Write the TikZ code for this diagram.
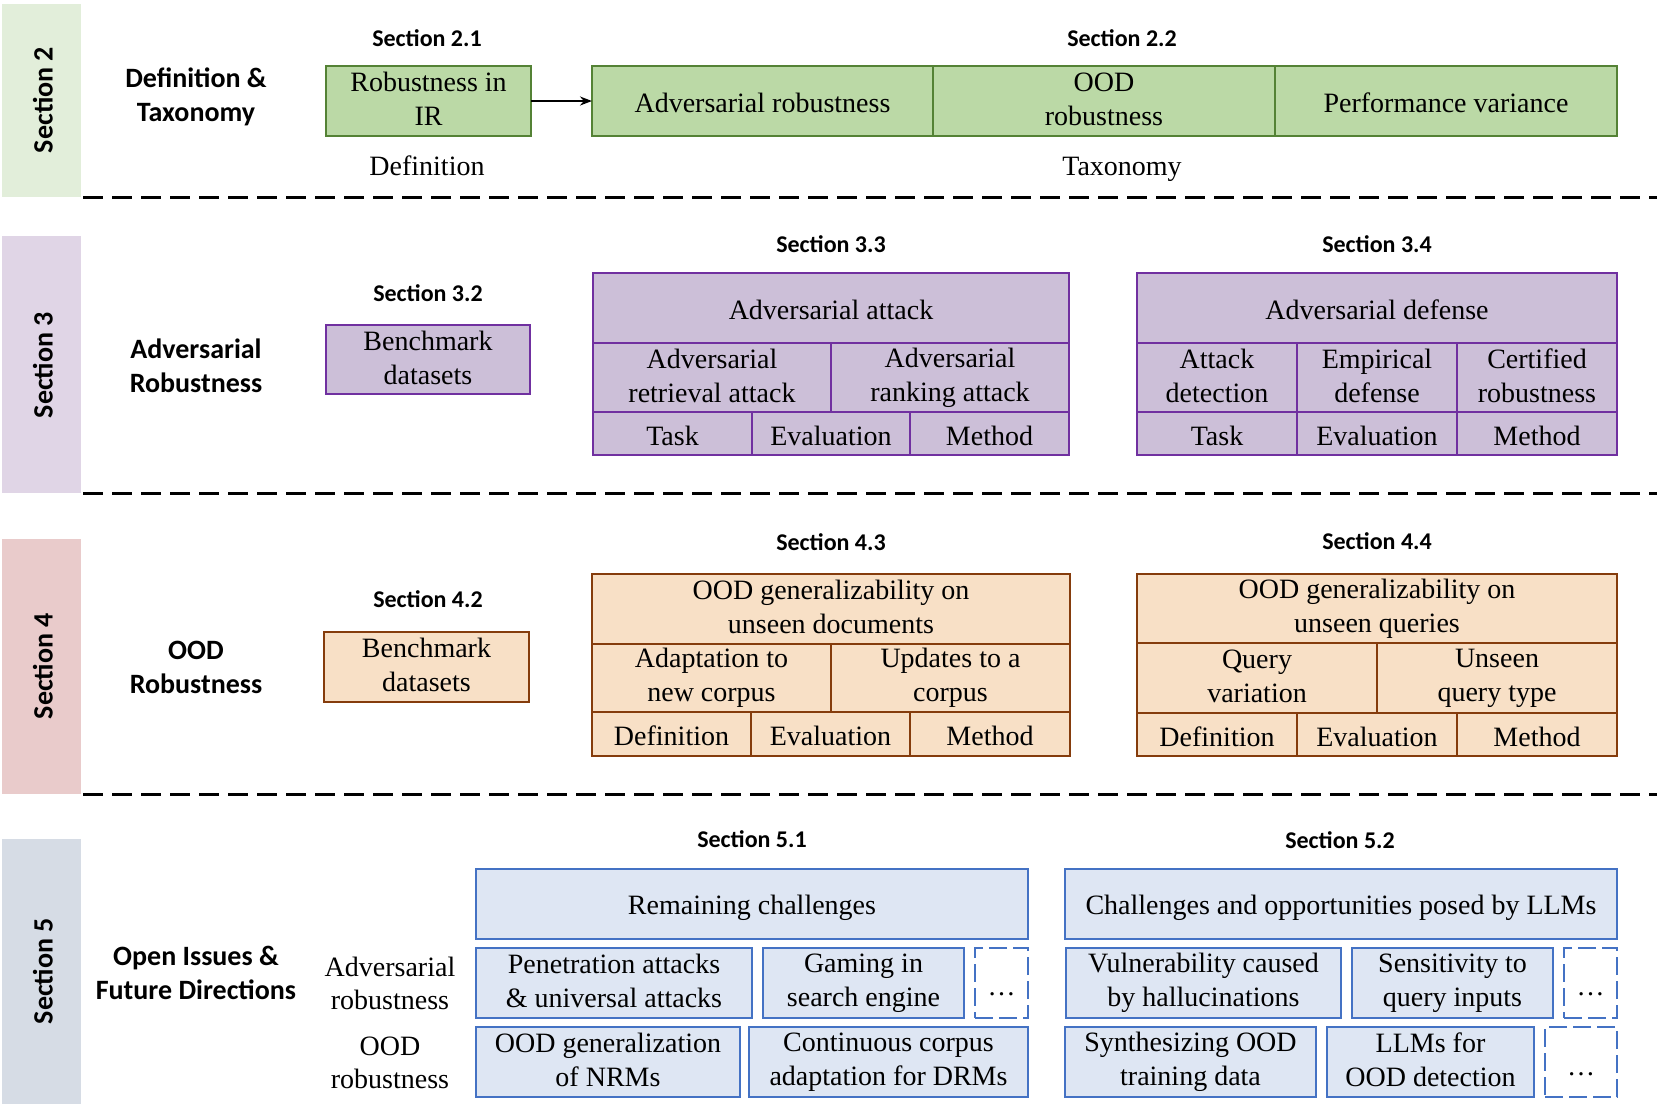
\documentclass[tikz,border=0pt]{standalone}
\usepackage{fontspec}
\setmainfont{Liberation Serif}
\newfontfamily\calfont{Carlito}
\usetikzlibrary{arrows.meta}
\definecolor{gfill}{RGB}{187,217,166}
\definecolor{gdraw}{RGB}{84,130,53}
\definecolor{pfill}{RGB}{204,191,216}
\definecolor{pdraw}{RGB}{112,48,160}
\definecolor{ofill}{RGB}{248,224,198}
\definecolor{odraw}{RGB}{133,60,12}
\definecolor{bfill}{RGB}{222,230,243}
\definecolor{bdraw}{RGB}{68,114,196}
\definecolor{sbgA}{RGB}{226,238,218}
\definecolor{sbgB}{RGB}{224,213,230}
\definecolor{sbgC}{RGB}{233,203,203}
\definecolor{sbgD}{RGB}{214,220,229}
\newcommand\cell[7]{\node[#1, minimum width={(#5-(#3))*0.5pt}, minimum height={(#6-(#4))*0.5pt}] (#2) at ({(#3+#5)/2},{(#4+#6)/2}) {#7};}
\newcommand\mydots[1]{\raisebox{-#1}[0pt][0pt]{\dots}}
\newcommand\cellstrut{\rule[-2pt]{0pt}{15.5pt}}
\begin{document}
\begin{tikzpicture}[x=0.5pt,y=-0.5pt,
  basebox/.style={inner sep=0pt, outer sep=0pt, line width=1.4pt, align=center, font=\fontsize{14}{17}\selectfont},
  cellbox/.style={basebox, execute at begin node=\cellstrut, execute at end node=\cellstrut},
  gbox/.style={cellbox, fill=gfill, draw=gdraw},
  pbox/.style={cellbox, fill=pfill, draw=pdraw},
  obox/.style={cellbox, fill=ofill, draw=odraw},
  bluebox/.style={cellbox, fill=bfill, draw=bdraw},
  dashbox/.style={basebox, draw=bdraw, dash pattern=on 9pt off 3pt},
  secttitle/.style={font=\calfont\bfseries\fontsize{12}{14}\selectfont},
  headtext/.style={font=\calfont\bfseries\fontsize{14}{17}\selectfont, align=center},
  plaintext/.style={font=\fontsize{14}{16.5}\selectfont, align=center},
  sepline/.style={line width=1.5pt, dash pattern=on 10pt off 4.5pt}]
\useasboundingbox (0,0) rectangle (1660,1116);

% section bars
\fill[sbgA] (2,4) rectangle (81,197);
\fill[sbgB] (2,236) rectangle (81,493);
\fill[sbgC] (2,539) rectangle (81,794);
\fill[sbgD] (2,839) rectangle (81,1104);
\node[headtext, rotate=90] (lab2) at (43,100) {Section 2};
\node[headtext, rotate=90] (lab3) at (43,365) {Section 3};
\node[headtext, rotate=90] (lab4) at (43,666) {Section 4};
\node[headtext, rotate=90] (lab5) at (43,971) {Section 5};

% separators
\draw[sepline] (83,197) -- (1657,197);
\draw[sepline] (83,493) -- (1657,493);
\draw[sepline] (83,794) -- (1657,794);

% ---------- Section 2 ----------
\node[headtext] (h2) at (196,97) {Definition \&\\Taxonomy};
\node[secttitle] (t21) at (427,38) {Section 2.1};
\node[secttitle] (t22) at (1122,38) {Section 2.2};
\cell{gbox}{rir}{326}{66}{531}{136}{Robustness in\\IR}
\cell{gbox}{advr}{592}{66}{933}{136}{Adversarial robustness}
\cell{gbox}{oodr}{933}{66}{1275}{136}{OOD\\robustness}
\cell{gbox}{perf}{1275}{66}{1617}{136}{Performance variance}
\draw[-{Stealth[length=6pt,width=4.5pt]}, line width=1pt] (rir.east) -- (advr.west);
\node[plaintext, anchor=base] (defn) at (427,175) {Definition};
\node[plaintext, anchor=base] (taxo) at (1122,175) {Taxonomy};

% ---------- Section 3 ----------
\node[headtext] (h3) at (196,366) {Adversarial\\Robustness};
\node[secttitle] (t32) at (428,293) {Section 3.2};
\cell{pbox}{bench3}{326}{325}{530}{394}{Benchmark\\datasets}
\node[secttitle] (t33) at (831,244) {Section 3.3};
\cell{pbox}{atk}{593}{273}{1069}{343}{Adversarial attack}
\cell{pbox}{atkr}{593}{343}{831}{412}{Adversarial\\retrieval attack}
\cell{pbox}{atkk}{831}{343}{1069}{412}{Adversarial\\ranking attack}
\cell{pbox}{atkt}{593}{412}{752}{455}{Task}
\cell{pbox}{atke}{752}{412}{910}{455}{Evaluation}
\cell{pbox}{atkm}{910}{412}{1069}{455}{Method}
\node[secttitle] (t34) at (1377,244) {Section 3.4};
\cell{pbox}{dfn}{1137}{273}{1617}{343}{Adversarial defense}
\cell{pbox}{dfna}{1137}{343}{1297}{412}{Attack\\detection}
\cell{pbox}{dfne}{1297}{343}{1457}{412}{Empirical\\defense}
\cell{pbox}{dfnc}{1457}{343}{1617}{412}{Certified\\robustness}
\cell{pbox}{dfnt}{1137}{412}{1297}{455}{Task}
\cell{pbox}{dfnv}{1297}{412}{1457}{455}{Evaluation}
\cell{pbox}{dfnm}{1457}{412}{1617}{455}{Method}

% ---------- Section 4 ----------
\node[headtext] (h4) at (196,667) {OOD\\Robustness};
\node[secttitle] (t42) at (428,599) {Section 4.2};
\cell{obox}{bench4}{324}{632}{529}{702}{Benchmark\\datasets}
\node[secttitle] (t43) at (831,542) {Section 4.3};
\cell{obox}{doc}{592}{574}{1070}{644}{OOD generalizability on\\unseen documents}
\cell{obox}{doca}{592}{644}{831}{712}{Adaptation to\\new corpus}
\cell{obox}{docu}{831}{644}{1070}{712}{Updates to a\\corpus}
\cell{obox}{docd}{592}{712}{751}{756}{Definition}
\cell{obox}{doce}{751}{712}{910}{756}{Evaluation}
\cell{obox}{docm}{910}{712}{1070}{756}{Method}
\node[secttitle] (t44) at (1377,541) {Section 4.4};
\cell{obox}{qry}{1137}{574}{1617}{643}{OOD generalizability on\\unseen queries}
\cell{obox}{qryv}{1137}{643}{1377}{713}{Query\\variation}
\cell{obox}{qryu}{1377}{643}{1617}{713}{Unseen\\query type}
\cell{obox}{qryd}{1137}{713}{1297}{756}{Definition}
\cell{obox}{qrye}{1297}{713}{1457}{756}{Evaluation}
\cell{obox}{qrym}{1457}{713}{1617}{756}{Method}

% ---------- Section 5 ----------
\node[headtext] (h5) at (196,973) {Open Issues \&\\Future Directions};
\node[plaintext] (la) at (390,983) {Adversarial\\robustness};
\node[plaintext] (lo) at (390,1063) {OOD\\robustness};
\node[secttitle] (t51) at (752,839) {Section 5.1};
\cell{bluebox}{rem}{476}{869}{1028}{939}{Remaining challenges}
\cell{bluebox}{pen}{476}{948}{752}{1018}{Penetration attacks\\\& universal attacks}
\cell{bluebox}{gam}{763}{948}{964}{1018}{Gaming in\\search engine}
\cell{dashbox}{da1}{975}{948}{1028}{1018}{\mydots{6pt}}
\cell{bluebox}{oodg}{476}{1027}{740}{1097}{OOD generalization\\of NRMs}
\cell{bluebox}{cont}{749}{1027}{1028}{1097}{Continuous corpus\\adaptation for DRMs}
\node[secttitle] (t52) at (1340,840) {Section 5.2};
\cell{bluebox}{llm}{1065}{869}{1617}{939}{Challenges and opportunities posed by LLMs}
\cell{bluebox}{vul}{1066}{948}{1341}{1018}{Vulnerability caused\\by hallucinations}
\cell{bluebox}{sen}{1352}{948}{1553}{1018}{Sensitivity to\\query inputs}
\cell{dashbox}{da2}{1564}{948}{1617}{1018}{\mydots{6pt}}
\cell{bluebox}{syn}{1065}{1027}{1316}{1097}{Synthesizing OOD\\training data}
\cell{bluebox}{det}{1327}{1027}{1534}{1097}{LLMs for\\OOD detection}
\cell{dashbox}{da3}{1545}{1027}{1617}{1097}{\mydots{6.5pt}}
\end{tikzpicture}
\end{document}
